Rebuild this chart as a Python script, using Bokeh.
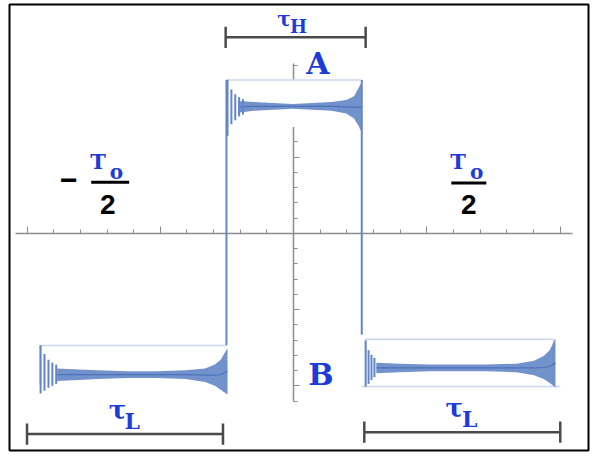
from bokeh.plotting import figure
from bokeh.models import (LinearAxis, FixedTicker, Range1d, Label,
                          CustomJSTickFormatter)
from bokeh.embed import file_html
from bokeh.resources import INLINE

# ---------------- data ----------------
half_period = 2.0                      # T_o / 2
pulse_edges = [-0.504, 0.511]          # rising / falling edge of the pulse
edge_bottoms = [-1.468, -1.329]        # where each edge meets the low level

# high level (A): ripple band envelope
high_x = [-0.416, -0.299, -0.153, -0.007, 0.139, 0.285, 0.394, 0.453, 0.489, 0.511]
high_up = [1.734, 1.722, 1.709, 1.696, 1.709, 1.722, 1.747, 1.797, 1.911, 1.987]
high_lo = [1.582, 1.608, 1.620, 1.633, 1.620, 1.608, 1.570, 1.506, 1.405, 1.316]
high_spike_x = [-0.496, -0.467, -0.438, -0.409, -0.380]
high_spike_top = [2.013, 1.886, 1.823, 1.785, 1.759]
high_spike_bot = [1.278, 1.430, 1.481, 1.532, 1.557]
high_frame = 2.01

# low level (B), left part
lowL_x = [-1.774, -1.613, -1.467, -1.248, -1.029, -0.810, -0.664, -0.591, -0.547, -0.518, -0.496]
lowL_up = [-1.772, -1.785, -1.797, -1.810, -1.810, -1.797, -1.772, -1.722, -1.658, -1.570, -1.506]
lowL_lo = [-1.937, -1.924, -1.911, -1.899, -1.899, -1.911, -1.949, -2.000, -2.051, -2.089, -2.114]
lowL_spike_x = [-1.898, -1.869, -1.839, -1.810, -1.781]
lowL_spike_top = [-1.468, -1.582, -1.658, -1.696, -1.722]
lowL_spike_bot = [-2.101, -2.063, -2.025, -2.000, -1.975]
lowL_frame_x = [-1.905, -0.504]
lowL_frame_top = -1.47

# low level (B), right part
lowR_x = [0.620, 0.796, 1.015, 1.234, 1.453, 1.672, 1.803, 1.876, 1.920, 1.949, 1.964]
lowR_up = [-1.696, -1.709, -1.722, -1.722, -1.722, -1.709, -1.671, -1.608, -1.532, -1.430, -1.380]
lowR_lo = [-1.835, -1.823, -1.810, -1.810, -1.810, -1.823, -1.861, -1.911, -1.962, -2.000, -2.025]
lowR_spike_x = [0.540, 0.562, 0.584, 0.606]
lowR_spike_top = [-1.405, -1.532, -1.595, -1.633]
lowR_spike_bot = [-2.013, -1.975, -1.924, -1.886]
lowR_frame_x = [0.540, 1.949]
lowR_frame_top = -1.39
lowR_frame_bottom = -2.01

# dimension brackets
tau_H_bracket = [-0.51, 0.54]
tau_L_left_bracket = [-2.0, -0.53]
tau_L_right_bracket = [0.53, 2.0]

x_major = [-2, -1, 1, 2]
x_minor = [-2.0, -1.8, -1.6, -1.4, -1.2, -1.0, -0.8, -0.6, -0.4, -0.2,
           0.2, 0.4, 0.6, 0.8, 1.0, 1.2, 1.4, 1.6, 1.8, 2.0]
y_major = [-2, -1, 1, 2]
y_minor = [-2.2, -2.0, -1.8, -1.6, -1.4, -1.2, -1.0, -0.8, -0.6, -0.4, -0.2,
           0.2, 0.4, 0.6, 0.8, 1.0, 1.2, 1.4, 1.6, 1.8, 2.0, 2.2]

# ---------------- layout helpers (reference pixels -> data) ----------------
OX, SX, OY, SY = 301.0, 137.0, 241.0, 79.0
W, H = 591, 454
BL, BR, BT, BB = 9, 3, 4, 4          # white margin around the black frame


def dx(px):
    return (px - OX) / SX


def dy(py):
    return (OY - py) / SY


BLUE_TXT = "#1b3cd8"
WAVE = "#6386c6"
FRAME = "#cbd8ee"
AXIS = "#8c8c8c"
BRACKET = "#4a4a4a"
SERIF = "DejaVu Serif"
SANS = "Liberation Sans"

p = figure(width=W, height=H, output_backend="svg", toolbar_location=None,
           x_range=Range1d(dx(9), dx(604)), y_range=Range1d(dy(466), dy(4)),
           x_axis_location=None, y_axis_location=None,
           min_border_left=BL, min_border_right=BR, min_border_top=BT, min_border_bottom=BB)
p.grid.visible = False
p.background_fill_color = "white"
p.border_fill_color = "white"
p.outline_line_color = "black"
p.outline_line_width = 2

xa = LinearAxis(fixed_location=0, bounds=(-2.09, 2.09),
                ticker=FixedTicker(ticks=x_major, minor_ticks=x_minor),
                formatter=CustomJSTickFormatter(code="return ''"),
                major_label_text_font_size="0px", major_label_standoff=0,
                axis_line_color=AXIS, axis_line_width=1.5,
                major_tick_in=7, major_tick_out=0, minor_tick_in=4, minor_tick_out=0,
                major_tick_line_color=AXIS, minor_tick_line_color=AXIS)
ya = LinearAxis(fixed_location=0, bounds=(-2.2, 2.23),
                ticker=FixedTicker(ticks=y_major, minor_ticks=y_minor),
                formatter=CustomJSTickFormatter(code="return ''"),
                major_label_text_font_size="0px", major_label_standoff=0,
                axis_line_color=AXIS, axis_line_width=1.5,
                major_tick_in=6, major_tick_out=0, minor_tick_in=4, minor_tick_out=0,
                major_tick_line_color=AXIS, minor_tick_line_color=AXIS)
p.add_layout(xa, "below")
p.add_layout(ya, "left")

LV = "annotation"

# white background of the upper inset (hides the axis behind it)
r = p.quad(left=[pulse_edges[0]], right=[pulse_edges[1]], bottom=[dy(131)], top=[high_frame],
           fill_color="white", line_color=None)
r.level = LV

# inset frames
for rr in [
    p.segment(x0=[pulse_edges[0]], y0=[high_frame], x1=[pulse_edges[1]], y1=[high_frame],
              line_color=FRAME, line_width=1.5),
    p.segment(x0=[lowL_frame_x[0], lowL_frame_x[0]], y0=[lowL_frame_top, lowL_frame_top],
              x1=[lowL_frame_x[1], lowL_frame_x[0]], y1=[lowL_frame_top, dy(398)],
              line_color=FRAME, line_width=1.5),
    p.segment(x0=[lowR_frame_x[0], pulse_edges[1], lowR_frame_x[0], lowR_frame_x[1]],
              y0=[lowR_frame_top, lowR_frame_bottom, lowR_frame_top, lowR_frame_top],
              x1=[lowR_frame_x[1], half_period, lowR_frame_x[0], lowR_frame_x[1]],
              y1=[lowR_frame_top, lowR_frame_bottom, lowR_frame_bottom, lowR_frame_bottom],
              line_color=FRAME, line_width=1.5),
]:
    rr.level = LV

# edges
r = p.segment(x0=pulse_edges, y0=[high_frame, high_frame], x1=pulse_edges, y1=edge_bottoms,
              line_color=WAVE, line_width=2)
r.level = LV

# ripple bands
for bx, bu, bl in [(high_x, high_up, high_lo), (lowL_x, lowL_up, lowL_lo), (lowR_x, lowR_up, lowR_lo)]:
    r = p.varea(x=bx, y1=bl, y2=bu, fill_color=WAVE, fill_alpha=0.9)
    r.level = LV
    r = p.line(x=bx, y=[(a + b) / 2 for a, b in zip(bu, bl)], line_color="#4d72b8", line_width=1.2)
    r.level = LV

# Gibbs spikes
for sx, st, sb in [(high_spike_x, high_spike_top, high_spike_bot),
                   (lowL_spike_x, lowL_spike_top, lowL_spike_bot),
                   (lowR_spike_x, lowR_spike_top, lowR_spike_bot)]:
    r = p.segment(x0=sx, y0=st, x1=sx, y1=sb, line_color=WAVE, line_width=2)
    r.level = LV

# dimension brackets
cap = 0.14
for (a, b), yy in [(tau_H_bracket, dy(38)), (tau_L_left_bracket, dy(449)), (tau_L_right_bracket, dy(447))]:
    p.segment(x0=[a, a, b], y0=[yy, yy - cap, yy - cap], x1=[b, a, b], y1=[yy, yy + cap, yy + cap],
              line_color=BRACKET, line_width=2.5)

# ---------------- texts ----------------


def lab(text, px, py, size, color=BLUE_TXT, font=SERIF, style="bold"):
    p.add_layout(Label(x=dx(px), y=dy(py), text=text, text_font=font, text_font_size=f"{size}px",
                       text_font_style=style, text_color=color, text_align="center",
                       text_baseline="middle"))


lab("τ", 291, 19, 20)
lab("H", 306, 27, 18)
lab("A", 326, 65, 30)
lab("B", 329, 387, 30)
lab("τ", 120, 424, 26)
lab("L", 135, 435, 22)
lab("τ", 466, 422, 26)
lab("L", 482, 433, 22)

# -T_o/2 (left) and T_o/2 (right)
lab("−", 70, 186, 30, color="black", font=SANS)
for tx, bar0, bar1, bary, two_x in [(100, 93, 132, 188, 110), (470, 463, 499, 189, 481)]:
    lab("T", tx, 167, 21)
    lab("o", tx + 19, 177, 20)
    p.segment(x0=[dx(bar0)], y0=[dy(bary)], x1=[dx(bar1)], y1=[dy(bary)],
              line_color="black", line_width=3)
    lab("2", two_x, 211, 28, color="black", font=SANS, style="bold")

open("out.html", "w").write(file_html(p, INLINE))
